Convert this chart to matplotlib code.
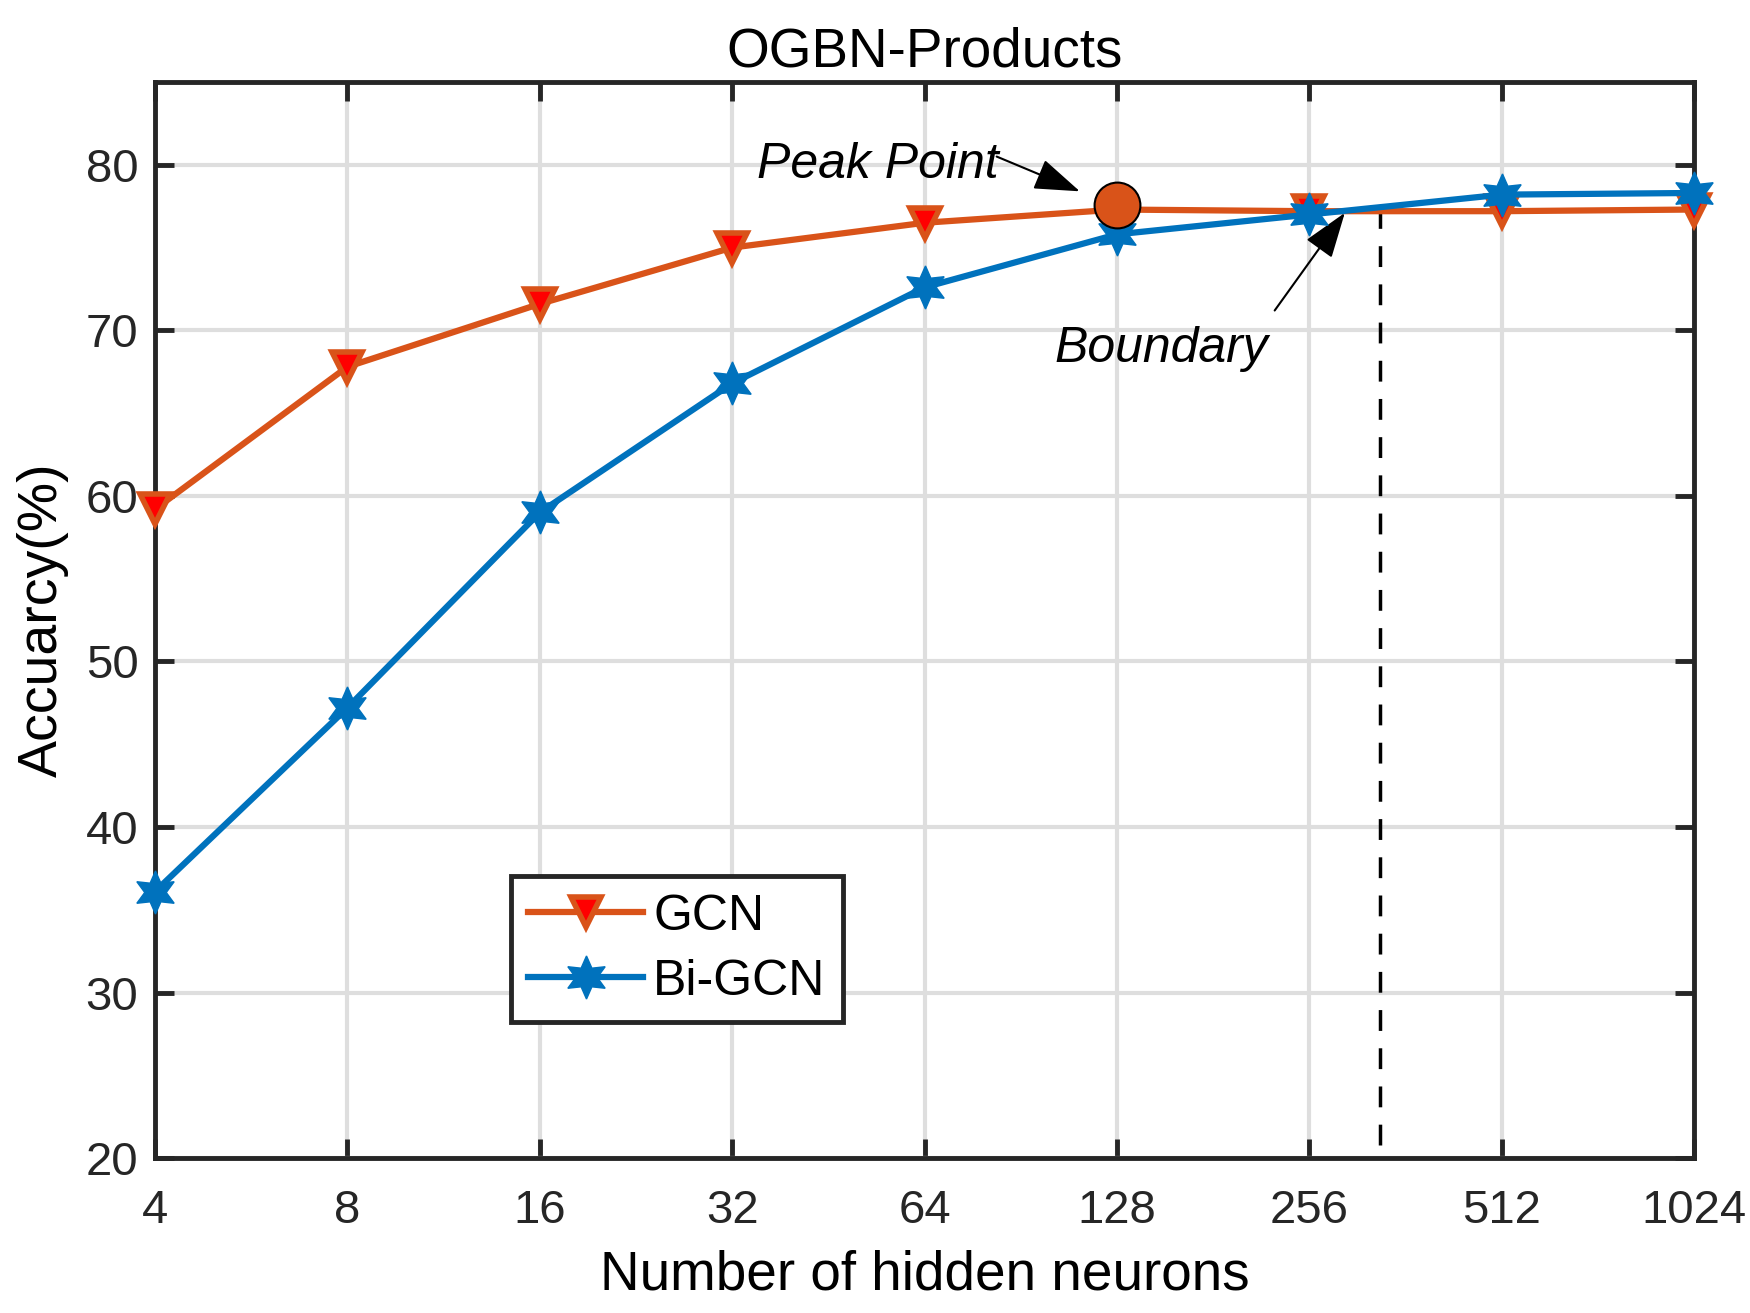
import numpy as np
import matplotlib
matplotlib.use("Agg")
from matplotlib import pyplot as plt

plt.rcParams.update({
    'font.family': ['Liberation Sans', 'DejaVu Sans'],
    'axes.edgecolor': '#262626',
    'xtick.color': '#262626',
    'ytick.color': '#262626',
})

# data
neurons = [4, 8, 16, 32, 64, 128, 256, 512, 1024]
gcn_acc = [59.2, 67.8, 71.6, 75.0, 76.5, 77.3, 77.2, 77.2, 77.3]
bigcn_acc = [36.1, 47.2, 59.0, 66.8, 72.6, 75.8, 77.0, 78.2, 78.3]
tick_labels = ['4', '8', '16', '32', '64', '128', '256', '512', '1024']
y_ticks = [20, 30, 40, 50, 60, 70, 80]

peak_x, peak_y = 128, 77.6
boundary_x = 330
boundary_y = [20.8, 77.3]

orange = '#D95319'
blue = '#0072BD'

fig = plt.figure(figsize=(17.5, 13.13), dpi=100)
ax = fig.add_axes([0.0886, 0.118, 0.968 - 0.0886, 0.9375 - 0.118])

ax.set_xscale('log', base=2)
ax.set_xlim(4, 1024)
ax.set_ylim(20, 85)

ax.grid(True, color='#dedede', linewidth=3)
ax.set_axisbelow(True)

hexagram = (6, 1, 0)
ax.plot(neurons, gcn_acc, color=orange, lw=4.5, marker='v', ms=22,
        mfc='#FF0000', mec=orange, mew=4, label='GCN', zorder=3, clip_on=False)
ax.plot(neurons, bigcn_acc, color=blue, lw=4.5, marker=hexagram, ms=31,
        mfc=blue, mec=blue, mew=1, label='Bi-GCN', zorder=4, clip_on=False)

# peak point marker
ax.plot([peak_x], [peak_y], marker='o', ms=33, mfc=orange, mec='black',
        mew=1.5, ls='none', zorder=5)

# boundary line
ax.plot([boundary_x, boundary_x], boundary_y, color='black', lw=2.5,
        ls=(0, (6, 5)), zorder=2)

arrow = dict(arrowstyle='-|>,head_length=1.3,head_width=0.45', color='black',
             lw=1.5, shrinkA=0, shrinkB=0, mutation_scale=22)
ax.text(54, 80.0, 'Peak Point', fontsize=36, style='italic',
        ha='center', va='center')
ax.annotate('', xy=(112, 78.4), xytext=(83, 80.5), arrowprops=arrow)
ax.text(150, 68.9, 'Boundary', fontsize=36, style='italic',
        ha='center', va='center')
ax.annotate('', xy=(291, 77.1), xytext=(226, 71.2), arrowprops=arrow)

ax.set_xticks(neurons)
ax.set_xticklabels(tick_labels)
ax.minorticks_off()
ax.set_yticks(y_ticks)
ax.tick_params(axis='both', which='both', direction='in', length=14, width=3.5,
               labelsize=34, top=True, right=True)
ax.tick_params(axis='x', pad=22)
ax.tick_params(axis='y', pad=12)

for sp in ax.spines.values():
    sp.set_linewidth(3.5)

ax.set_title('OGBN-Products', fontsize=39.5, pad=11)
ax.set_xlabel('Number of hidden neurons', fontsize=39.5, labelpad=12)
ax.set_ylabel('Accuarcy(%)', fontsize=40, labelpad=12)

leg = ax.legend(loc='upper left', bbox_to_anchor=(0.231, 0.262), fontsize=36,
                frameon=True, fancybox=False, edgecolor='#262626',
                borderaxespad=0, handlelength=2.3, handletextpad=0.2,
                borderpad=0.35, labelspacing=0.38)
leg.get_frame().set_linewidth(3.5)
leg.get_frame().set_alpha(1)

fig.savefig('out.png', dpi=100)
